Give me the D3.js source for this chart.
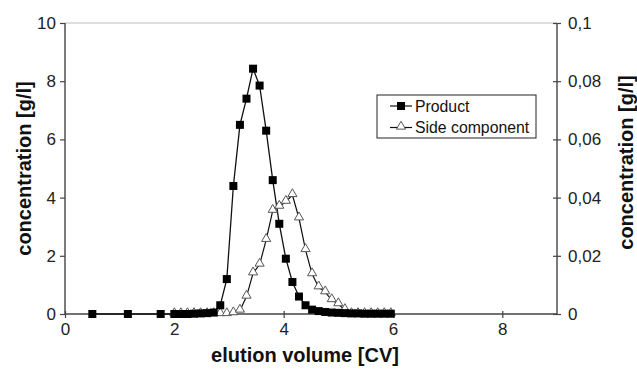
<!DOCTYPE html>
<html>
<head>
<meta charset="utf-8">
<script src="https://cdn.jsdelivr.net/npm/d3@7"></script>
<style>
  body { margin: 0; background: #fff; }
  text { font-family: "Liberation Sans", Arial, sans-serif; }
</style>
</head>
<body>
<div id="chart"></div>
<script>
// elution volume [CV]
var productX = [0.5, 1.15, 1.75, 2.0, 2.12, 2.24, 2.36, 2.48, 2.6, 2.72, 2.84, 2.96, 3.08, 3.2, 3.32, 3.44,
  3.56, 3.68, 3.8, 3.92, 4.04, 4.16, 4.28, 4.4, 4.52, 4.64, 4.76, 4.88, 5.0, 5.12, 5.24, 5.36,
  5.48, 5.6, 5.72, 5.84, 5.96];
var productY = [0, 0, 0, 0, 0, 0, 0.01, 0.02, 0.03, 0.05, 0.3, 1.2, 4.4, 6.5, 7.4, 8.43,
  7.85, 6.3, 4.6, 3.1, 1.9, 1.1, 0.6, 0.3, 0.15, 0.1, 0.07, 0.05, 0.04, 0.03, 0.02, 0.02,
  0.01, 0.01, 0.01, 0.01, 0.01];

var sideX = [2.0, 2.12, 2.24, 2.36, 2.48, 2.6, 2.72, 2.84, 2.96, 3.08, 3.2, 3.32, 3.44,
  3.56, 3.68, 3.8, 3.92, 4.04, 4.16, 4.28, 4.4, 4.52, 4.64, 4.76, 4.88, 5.0, 5.12, 5.24, 5.36,
  5.48, 5.6, 5.72, 5.84, 5.96];
var sideY = [0, 0, 0, 0, 0, 0, 0, 0, 0, 0.0003, 0.0012, 0.006, 0.014,
  0.017, 0.0255, 0.0355, 0.0369, 0.0386, 0.0409, 0.0329, 0.022, 0.0137, 0.0092, 0.0075, 0.0048, 0.0034, 0.0014, 0, 0,
  0, 0, 0, 0, 0];

var xTicks = [0, 2, 4, 6, 8];
var yLeftTicks = [0, 2, 4, 6, 8, 10];
var yRightTicks = [0, 0.02, 0.04, 0.06, 0.08, 0.1];
var seriesNames = ["Product", "Side component"];

var W = 637, H = 369;
var margin = {top: 23, right: 80, bottom: 55, left: 65};
var width = W - margin.left - margin.right,
    height = H - margin.top - margin.bottom;

var svg = d3.select("#chart").append("svg")
    .attr("width", W).attr("height", H);
var g = svg.append("g")
    .attr("transform", "translate(" + margin.left + "," + margin.top + ")");

var x = d3.scaleLinear().domain([0, 9]).range([0, width]);
var yL = d3.scaleLinear().domain([0, 10]).range([height, 0]);
var yR = d3.scaleLinear().domain([0, 0.1]).range([height, 0]);

var axisColor = "#444";

// top border of plot area
g.append("line")
    .attr("x1", 0).attr("x2", width).attr("y1", 0).attr("y2", 0)
    .attr("stroke", "#bbb").attr("stroke-width", 1.2);

// left axis
var gl = g.append("g").call(d3.axisLeft(yL).tickValues(yLeftTicks).tickSize(5).tickPadding(4));
// right axis
var gr = g.append("g").attr("transform", "translate(" + width + ",0)")
    .call(d3.axisRight(yR).tickValues(yRightTicks).tickSize(4).tickPadding(7)
      .tickFormat(function(d) { return d === 0 ? "0" : d3.format(".2~f")(d).replace(".", ","); }));
gr.selectAll(".tick line").attr("x1", -4);
// bottom axis
var gb = g.append("g").attr("transform", "translate(0," + height + ")")
    .call(d3.axisBottom(x).tickValues(xTicks).tickSize(4).tickPadding(5));
gb.selectAll(".tick line").attr("y1", -3);

[gl, gr, gb].forEach(function(a) {
  a.select(".domain").attr("stroke", axisColor).attr("stroke-width", 1.4);
  a.selectAll(".tick line").attr("stroke", axisColor).attr("stroke-width", 1.2);
  a.selectAll(".tick text").attr("fill", "#222").style("font-size", "17px")
    .style("font-family", "'Liberation Sans', Arial, sans-serif");
});
gl.select(".domain").attr("d", "M0," + height + "V0");
gr.select(".domain").attr("d", "M0," + height + "V0");
gb.select(".domain").attr("d", "M0,0H" + width);

// lines
var productData = productX.map(function(v, i) { return [v, productY[i]]; });
var sideData = sideX.map(function(v, i) { return [v, sideY[i]]; });

g.append("path").datum(sideData)
    .attr("fill", "none").attr("stroke", "#111").attr("stroke-width", 1.2)
    .attr("d", d3.line().x(function(d) { return x(d[0]); }).y(function(d) { return yR(d[1]); }));

g.append("path").datum(productData)
    .attr("fill", "none").attr("stroke", "#111").attr("stroke-width", 1.3)
    .attr("d", d3.line().x(function(d) { return x(d[0]); }).y(function(d) { return yL(d[1]); }));

var tri = d3.symbol().type(d3.symbolTriangle).size(36);

g.append("g").selectAll("path")
    .data(sideData).enter().append("path")
    .attr("d", tri)
    .attr("transform", function(d) { return "translate(" + x(d[0]) + "," + (yR(d[1]) - 1) + ")"; })
    .attr("fill", "#fff").attr("stroke", "#555").attr("stroke-width", 1);

g.append("g").selectAll("rect")
    .data(productData).enter().append("rect")
    .attr("x", function(d) { return x(d[0]) - 4; })
    .attr("y", function(d) { return yL(d[1]) - 4; })
    .attr("width", 8).attr("height", 8)
    .attr("fill", "#000");

// axis titles
svg.append("text")
    .attr("transform", "translate(24," + (margin.top + height / 2) + ") rotate(-90)")
    .attr("text-anchor", "middle").attr("dy", "0.35em")
    .style("font-size", "20px").style("font-weight", "bold").attr("fill", "#111")
    .text("concentration [g/l]");

svg.append("text")
    .attr("transform", "translate(626," + (margin.top + height / 2 - 6) + ") rotate(-90)")
    .attr("text-anchor", "middle").attr("dy", "0.35em")
    .style("font-size", "20px").style("font-weight", "bold").attr("fill", "#111")
    .text("concentration [g/l]");

svg.append("text")
    .attr("x", margin.left + width / 2 - 6).attr("y", 362)
    .attr("text-anchor", "middle")
    .style("font-size", "20px").style("font-weight", "bold").attr("fill", "#111")
    .text("elution volume [CV]");

// legend
var legend = svg.append("g").attr("transform", "translate(377,95)");
legend.append("rect")
    .attr("width", 159).attr("height", 43)
    .attr("fill", "#fff").attr("stroke", "#222").attr("stroke-width", 1);

var rows = legend.selectAll("g.row").data(seriesNames).enter().append("g")
    .attr("class", "row")
    .attr("transform", function(d, i) { return "translate(0," + (11 + i * 21.5) + ")"; });
rows.append("line")
    .attr("x1", 13).attr("x2", 35).attr("y1", 0).attr("y2", 0)
    .attr("stroke", "#111").attr("stroke-width", 1.2);
rows.filter(function(d, i) { return i === 0; }).append("rect")
    .attr("x", 20).attr("y", -4).attr("width", 8).attr("height", 8).attr("fill", "#000");
rows.filter(function(d, i) { return i === 1; }).append("path")
    .attr("d", tri).attr("transform", "translate(24,-1)")
    .attr("fill", "#fff").attr("stroke", "#555");
rows.append("text")
    .attr("x", 38).attr("dy", "0.35em")
    .style("font-size", "15.8px").attr("fill", "#111")
    .text(function(d) { return d; });
</script>
</body>
</html>
